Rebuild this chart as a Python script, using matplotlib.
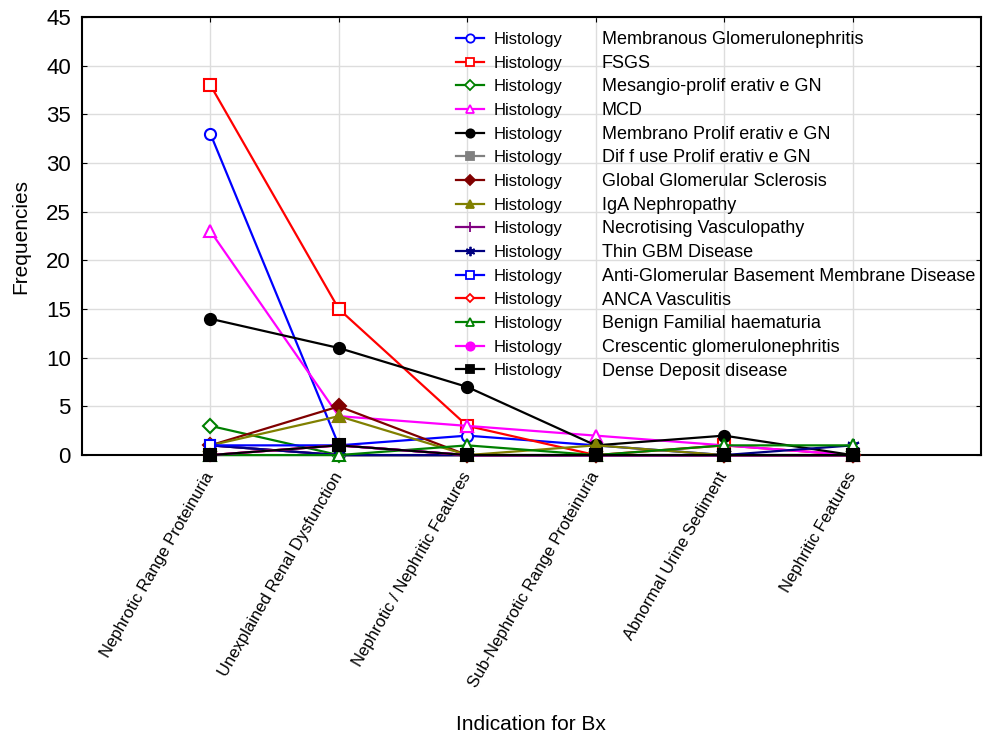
import numpy as np
import matplotlib.pyplot as plt
from matplotlib.lines import Line2D

plt.rcParams['font.family'] = ['Liberation Sans', 'DejaVu Sans']

categories = ["Nephrotic Range Proteinuria", "Unexplained Renal Dysfunction",
              "Nephrotic / Nephritic Features", "Sub-Nephrotic Range Proteinuria",
              "Abnormal Urine Sediment", "Nephritic Features"]

names = ["Membranous Glomerulonephritis", "FSGS", "Mesangio-prolif erativ e GN", "MCD",
         "Membrano Prolif erativ e GN", "Dif f use Prolif erativ e GN",
         "Global Glomerular Sclerosis", "IgA Nephropathy", "Necrotising Vasculopathy",
         "Thin GBM Disease", "Anti-Glomerular Basement Membrane Disease",
         "ANCA Vasculitis", "Benign Familial haematuria",
         "Crescentic glomerulonephritis", "Dense Deposit disease"]

membranous = [33, 1, 2, 1, 0, 0]
fsgs = [38, 15, 3, 0, 1, 0]
mesangio = [3, 0, 0, 0, 0, 0]
mcd = [23, 4, 3, 2, 1, 0]
membrano = [14, 11, 7, 1, 2, 0]
diffuse = [1, 0, 0, 0, 0, 0]
global_scl = [1, 5, 0, 0, 0, 0]
iga = [1, 4, 0, 1, 0, 0]
necrotising = [1, 0, 0, 0, 0, 0]
thin_gbm = [1, 0, 0, 0, 0, 1]
anti_gbm = [1, 1, 0, 0, 0, 0]
anca = [0, 1, 0, 0, 0, 0]
benign = [0, 0, 1, 0, 1, 1]
crescentic = [0, 1, 0, 0, 0, 0]
dense = [0, 1, 0, 0, 0, 0]

series = [membranous, fsgs, mesangio, mcd, membrano, diffuse, global_scl, iga,
          necrotising, thin_gbm, anti_gbm, anca, benign, crescentic, dense]

# colour, marker, filled, marker size
styles = [("#0000FF", "o", False, 8),
          ("#FF0000", "s", False, 8),
          ("#008000", "D", False, 7),
          ("#FF00FF", "^", False, 8),
          ("#000000", "o", True, 8),
          ("#808080", "s", True, 7),
          ("#800000", "D", True, 7),
          ("#808000", "^", True, 8),
          ("#800080", "+", True, 9),
          ("#000080", (6, 2, 0), True, 9),
          ("#0000FF", "s", False, 7),
          ("#FF0000", "D", False, 6),
          ("#008000", "^", False, 8),
          ("#FF00FF", "o", True, 8),
          ("#000000", "s", True, 8)]

fig = plt.figure(figsize=(9.83, 7.40), dpi=100)
ax = fig.add_axes([0.0834, 0.385, 0.9146, 0.592])

x = np.arange(1, len(categories) + 1)
handles = []
for vals, (col, mk, filled, ms) in zip(series, styles):
    face = col if filled else "white"
    ax.plot(x, vals, color=col, marker=mk, markersize=ms, markerfacecolor=face,
            markeredgecolor=col, markeredgewidth=1.5, linewidth=1.6, clip_on=False, zorder=3)
    handles.append(Line2D([], [], color=col, marker=mk, markersize=ms * 0.75,
                          markerfacecolor=face, markeredgecolor=col,
                          markeredgewidth=1.3, linewidth=1.6))

ax.set_xlim(0, 7)
ax.set_ylim(0, 45)
ax.set_yticks(np.arange(0, 46, 5))
ax.set_xticks(x)
ax.set_xticklabels(categories, rotation=60, ha="right", va="center",
                   rotation_mode="anchor", fontsize=12)
ax.tick_params(axis="y", labelsize=16, direction="in", right=True, pad=8)
ax.tick_params(axis="x", direction="in", top=True, pad=13)
ax.grid(True, color="#dddddd", linewidth=1)
ax.set_axisbelow(True)
for sp in ax.spines.values():
    sp.set_linewidth(1.5)

ax.set_ylabel("Frequencies", fontsize=15, labelpad=11)
fig.text(0.54, 0.008, "Indication for Bx", ha="center", va="bottom", fontsize=15)

leg1 = ax.legend(handles, ["Histology"] * len(names), loc="upper left",
                 bbox_to_anchor=(0.416, 0.966), frameon=False, fontsize=12,
                 labelspacing=0.52, borderaxespad=0, borderpad=0,
                 handlelength=1.7, handletextpad=0.55)
ax.add_artist(leg1)
blank = [Line2D([], [], linestyle="none") for _ in names]
ax.legend(blank, names, loc="upper left", bbox_to_anchor=(0.578, 0.968),
          frameon=False, fontsize=13, labelspacing=0.37, borderaxespad=0,
          borderpad=0, handlelength=0, handletextpad=0)

fig.savefig("out.png", dpi=100)
